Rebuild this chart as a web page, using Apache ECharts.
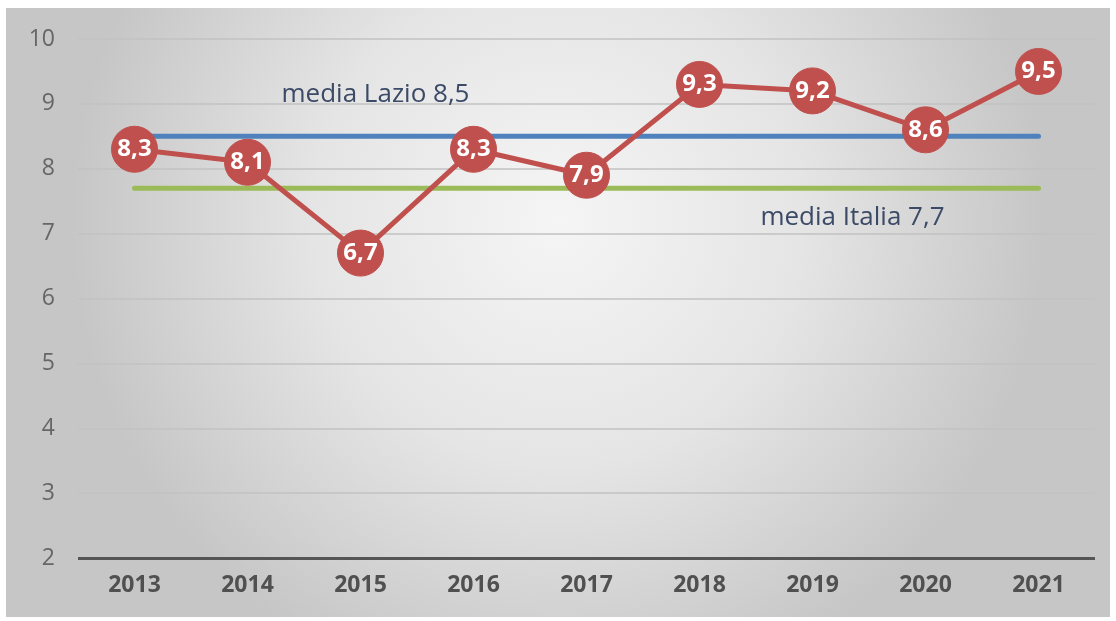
<!DOCTYPE html>
<html>
<head>
<meta charset="utf-8">
<script src="https://cdn.jsdelivr.net/npm/echarts@6/dist/echarts.min.js"></script>
<style>
  html, body { margin: 0; padding: 0; background: #ffffff; }
  #chart { width: 1116px; height: 621px; }
</style>
</head>
<body>
<div id="chart"></div>
<script>
const years = ['2013', '2014', '2015', '2016', '2017', '2018', '2019', '2020', '2021']
const regionValues = [8.3, 8.1, 6.7, 8.3, 7.9, 9.3, 9.2, 8.6, 9.5]
const lazioMean = 8.5
const italiaMean = 7.7
const lazioLabel = 'media Lazio 8,5'
const italiaLabel = 'media Italia 7,7'

const fmt = (v) => String(v).replace('.', ',')
const FONT = '"Open Sans", "Noto Sans", sans-serif'

const chart = echarts.init(document.getElementById('chart'))

chart.setOption({
  animation: false,
  graphic: [
    {
      type: 'rect',
      z: -10,
      silent: true,
      shape: { x: 6, y: 8, width: 1104, height: 609 },
      style: {
        fill: new echarts.graphic.RadialGradient(0.5, 0.35, 0.8, [
          { offset: 0, color: '#f5f5f5' },
          { offset: 0.5, color: '#e5e5e5' },
          { offset: 1, color: '#c6c6c6' },
        ]),
      },
    },
  ],
  grid: { left: 78, right: 21, top: 39, bottom: 63 },
  xAxis: {
    type: 'category',
    data: years,
    boundaryGap: true,
    axisLine: { show: false },
    axisTick: { show: false },
    axisLabel: { color: '#505050', fontFamily: FONT, fontSize: 23, fontWeight: 'bold', margin: 16 },
  },
  yAxis: {
    type: 'value',
    min: 2,
    max: 10,
    interval: 1,
    axisLine: { show: false },
    axisTick: { show: false },
    axisLabel: { color: '#666666', fontFamily: FONT, fontSize: 23, margin: 23 },
    splitLine: { lineStyle: { color: '#c2c2c2', width: 1.5 } },
  },
  series: [
    {
      name: 'asse',
      type: 'line',
      data: [],
      markLine: {
        silent: true,
        symbol: 'none',
        label: { show: false },
        lineStyle: { color: '#555555', width: 3, type: 'solid' },
        data: [{ yAxis: 2 }],
      },
    },
    {
      name: 'media Italia',
      type: 'line',
      z: 3,
      data: years.map(() => italiaMean),
      showSymbol: false,
      lineStyle: { color: '#9bbb59', width: 5, cap: 'round' },
      markPoint: {
        symbol: 'rect',
        symbolSize: 1,
        itemStyle: { color: 'rgba(0,0,0,0)' },
        label: {
          show: true,
          formatter: italiaLabel,
          color: '#3b4a66',
          fontFamily: FONT,
          fontSize: 26,
          offset: [40, 29],
        },
        data: [{ coord: [6, italiaMean] }],
      },
    },
    {
      name: 'media Lazio',
      type: 'line',
      z: 3,
      data: years.map(() => lazioMean),
      showSymbol: false,
      lineStyle: { color: '#4f81bd', width: 5, cap: 'round' },
      markPoint: {
        symbol: 'rect',
        symbolSize: 1,
        itemStyle: { color: 'rgba(0,0,0,0)' },
        label: {
          show: true,
          formatter: lazioLabel,
          color: '#3b4a66',
          fontFamily: FONT,
          fontSize: 26,
          offset: [15, -42],
        },
        data: [{ coord: [2, lazioMean] }],
      },
    },
    {
      name: 'Lazio',
      type: 'line',
      z: 5,
      data: regionValues,
      symbol: 'circle',
      symbolSize: 46,
      lineStyle: { color: '#c0504d', width: 5 },
      itemStyle: { color: '#c0504d', borderColor: '#c0504d' },
      label: {
        show: true,
        position: 'inside',
        color: '#ffffff',
        fontFamily: FONT,
        fontSize: 24,
        fontWeight: 'bold',
        formatter: (p) => fmt(p.value),
      },
    },
  ],
})
</script>
</body>
</html>
